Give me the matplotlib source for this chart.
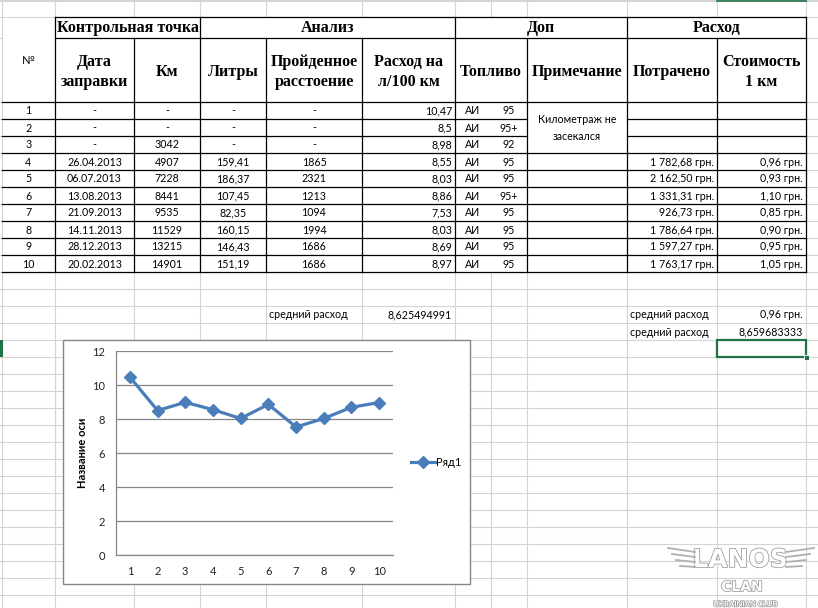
import matplotlib
matplotlib.use("Agg")
import matplotlib.pyplot as plt
import matplotlib.patches as mpatches
import matplotlib.patheffects as pe

# ---------------- data ----------------
row_numbers = ['1', '2', '3', '4', '5', '6', '7', '8', '9', '10']
dates = ['-', '-', '-', '26.04.2013', '06.07.2013', '13.08.2013', '21.09.2013',
         '14.11.2013', '28.12.2013', '20.02.2013']
km = ['-', '-', '3042', '4907', '7228', '8441', '9535', '11529', '13215', '14901']
liters = ['-', '-', '-', '159,41', '186,37', '107,45', '82,35', '160,15', '146,43', '151,19']
distance = ['-', '-', '-', '1865', '2321', '1213', '1094', '1994', '1686', '1686']
consumption = [10.47, 8.5, 8.98, 8.55, 8.03, 8.86, 7.53, 8.03, 8.69, 8.97]
fuel_type = ['АИ'] * 10
octane = ['95', '95+', '92', '95', '95', '95+', '95', '95', '95', '95']
spent = ['', '', '', '1 782,68 грн.', '2 162,50 грн.', '1 331,31 грн.', '926,73 грн.',
         '1 786,64 грн.', '1 597,27 грн.', '1 763,17 грн.']
cost_km = ['', '', '', '0,96 грн.', '0,93 грн.', '1,10 грн.', '0,85 грн.',
           '0,90 грн.', '0,95 грн.', '1,05 грн.']
note_text = 'Километраж не\nзасекался'
avg_label = 'средний расход'
avg_consumption = '8,625494991'
avg_cost = '0,96 грн.'
avg_consumption2 = '8,659683333'

group_headers = ['Контрольная точка', 'Анализ', 'Доп', 'Расход']
col_headers = ['Дата\nзаправки', 'Км', 'Литры', 'Пройденное\nрасстоение',
               'Расход на\nл/100 км', 'Топливо', 'Примечание', 'Потрачено', 'Стоимость\n1 км']
chart_categories = [str(i) for i in range(1, 11)]
series_name = 'Ряд1'
y_axis_title = 'Название оси'

# ---------------- layout (pixels) ----------------
W, H = 818, 608
COLS = [2, 55, 134, 200, 266, 362, 455, 491, 527, 627, 717, 806]
ROW_TOP = [0, 17, 38, 102]
DATA_Y0, RH = 102, 17
GRID = '#d4d4d4'
SANS = ['Lato', 'DejaVu Sans']
SERIF = ['Liberation Serif', 'DejaVu Serif']

fig = plt.figure(figsize=(W / 100, H / 100), dpi=100)
fig.patch.set_facecolor('white')
ax0 = fig.add_axes([0, 0, 1, 1])
ax0.set_xlim(0, W)
ax0.set_ylim(H, 0)
ax0.axis('off')

# spreadsheet gridlines
rows_y = ROW_TOP + [DATA_Y0 + RH * k for k in range(1, 40) if DATA_Y0 + RH * k < H]
for y in [0.5] + rows_y:
    ax0.plot([0, W], [y, y], color=GRID, lw=0.8, zorder=1)
for x in COLS:
    ax0.plot([x, x], [0, H], color=GRID, lw=0.8, zorder=1)

# table white fill
ax0.add_patch(mpatches.Rectangle((2.5, 17.5), 806 - 2.5, 272 - 17.5, facecolor='white',
                                 edgecolor='none', zorder=2))
BL = dict(color='black', lw=0.9, zorder=3, solid_capstyle='projecting')
data_bottom = DATA_Y0 + RH * len(row_numbers)
# horizontal borders
ax0.plot([55, 806], [17, 17], **BL)
ax0.plot([55, 806], [38, 38], **BL)
ax0.plot([2, 806], [102, 102], **BL)
for i in range(1, len(row_numbers) + 1):
    y = DATA_Y0 + RH * i
    if i in (1, 2):
        ax0.plot([2, 527], [y, y], **BL)
        ax0.plot([627, 806], [y, y], **BL)
    else:
        ax0.plot([2, 806], [y, y], **BL)
# vertical borders
for x, top in [(55, 17), (134, 38), (200, 17), (266, 38), (362, 38), (455, 17),
               (527, 38), (627, 17), (717, 38), (806, 17)]:
    ax0.plot([x, x], [top, data_bottom], **BL)

# headers
hfs = 11.5
centers_g = [(55 + 200) / 2, (200 + 455) / 2, (455 + 627) / 2, (627 + 806) / 2]
for cx, t in zip(centers_g, group_headers):
    ax0.text(cx, 28, t, ha='center', va='center', fontsize=hfs, fontweight='bold',
             family=SERIF, zorder=4)
ax0.text(28.5, 60, '№', ha='center', va='center', fontsize=8, family=SANS, zorder=4)
hcenters = [(55 + 134) / 2, (134 + 200) / 2, (200 + 266) / 2, (266 + 362) / 2,
            (362 + 455) / 2, (455 + 527) / 2, (527 + 627) / 2, (627 + 717) / 2, (717 + 806) / 2]
for cx, t in zip(hcenters, col_headers):
    ax0.text(cx, 72, t, ha='center', va='center', fontsize=hfs, fontweight='bold',
             family=SERIF, linespacing=1.35, zorder=4)

# data cells
dfs = 7.7
def cell(x, y, s, ha='center'):
    ax0.text(x, y, s, ha=ha, va='center', fontsize=dfs, family=SANS, zorder=4)

for i in range(len(row_numbers)):
    y = DATA_Y0 + RH * i + RH / 2 + 0.5
    cell(28.5, y, row_numbers[i])
    cell(94.5, y, dates[i])
    cell(167, y, km[i])
    cell(233, y, liters[i])
    cell(314, y, distance[i])
    cell(452, y, f'{consumption[i]:g}'.replace('.', ','), ha='right')
    cell(473, y, fuel_type[i])
    cell(509, y, octane[i])
    cell(714, y, spent[i], ha='right')
    cell(803, y, cost_km[i], ha='right')
ax0.text(577, DATA_Y0 + 1.5 * RH + 0.5, note_text, ha='center', va='center', fontsize=dfs,
         family=SANS, linespacing=1.65, zorder=4)

# averages
cell(269, 315, avg_label, ha='left')
cell(452, 315, avg_consumption, ha='right')
cell(630, 315, avg_label, ha='left')
cell(803, 315, avg_cost, ha='right')
cell(630, 332, avg_label, ha='left')
cell(803, 332, avg_consumption2, ha='right')

# selected cell
SEL = '#217346'
ax0.add_patch(mpatches.Rectangle((717, 340), 89, 17, facecolor='none', edgecolor=SEL,
                                 lw=1.6, zorder=5))
ax0.add_patch(mpatches.Rectangle((804, 355), 5, 5, facecolor=SEL, edgecolor='white',
                                 lw=0.6, zorder=6))
ax0.add_patch(mpatches.Rectangle((0, 340), 2.5, 17, facecolor=SEL, edgecolor='none', zorder=5))
ax0.plot([717, 806], [0.8, 0.8], color=SEL, lw=1.2, zorder=5)

# chart area
ax0.add_patch(mpatches.Rectangle((63, 340), 407, 244, facecolor='white', edgecolor='#868686',
                                 lw=1.0, zorder=6))
ax0.text(83, 453, y_axis_title, rotation=90, ha='center', va='center', fontsize=8,
         fontweight='bold', family=SANS, zorder=7)

ax = fig.add_axes([116 / W, (H - 555) / H, 277 / W, 204 / H])
ax.set_facecolor('none')
xs = list(range(1, len(consumption) + 1))
ax.plot(xs, consumption, color='#4A7EBB', lw=2.3, marker='D', ms=6,
        markeredgecolor='#4A7EBB', label=series_name, zorder=5)
ax.set_xlim(0.5, len(consumption) + 0.5)
ax.set_ylim(0, 12)
ax.set_yticks(range(0, 13, 2))
ax.set_xticks(xs)
ax.set_xticklabels(chart_categories)
ax.yaxis.grid(True, color='#868686', lw=0.9)
ax.set_axisbelow(True)
for s in ['top', 'right']:
    ax.spines[s].set_visible(False)
for s in ['left', 'bottom']:
    ax.spines[s].set_color('#868686')
    ax.spines[s].set_linewidth(0.9)
ax.tick_params(length=0, labelsize=8, colors='#222222')
ax.tick_params(axis='y', pad=8)
ax.tick_params(axis='x', pad=8)
for lab in ax.get_xticklabels() + ax.get_yticklabels():
    lab.set_family(SANS)
leg = ax.legend(loc='center left', bbox_to_anchor=(405, 462), bbox_transform=ax0.transData,
                frameon=False, borderpad=0, handlelength=2.2, handletextpad=0.1,
                prop={'family': SANS, 'size': 8})

# watermark logo
stroke = [pe.withStroke(linewidth=1.1, foreground='#9a9a9a')]
ax0.text(740, 560, 'LANOS', ha='center', va='center', fontsize=18, fontweight='bold',
         family=['DejaVu Sans'], color='white', path_effects=stroke, zorder=8)
ax0.text(742, 587, 'CLAN', ha='center', va='center', fontsize=10, fontweight='bold',
         family=['DejaVu Sans'], color='white', path_effects=stroke, zorder=8)
ax0.text(745, 604, 'UKRAINIAN CLUB', ha='center', va='center', fontsize=5.5,
         fontweight='bold', family=SANS, color='white',
         path_effects=[pe.withStroke(linewidth=1.0, foreground='#9a9a9a')], zorder=8)
wing = dict(color='#b0b0b0', lw=1.3, zorder=8)
for k in range(4):
    ax0.plot([668 + 4 * k, 695], [548 + 6 * k, 552 + 5 * k], **wing)
    ax0.plot([814 - 4 * k, 786], [548 + 6 * k, 552 + 5 * k], **wing)

fig.savefig('out.png', dpi=100, facecolor='white')
